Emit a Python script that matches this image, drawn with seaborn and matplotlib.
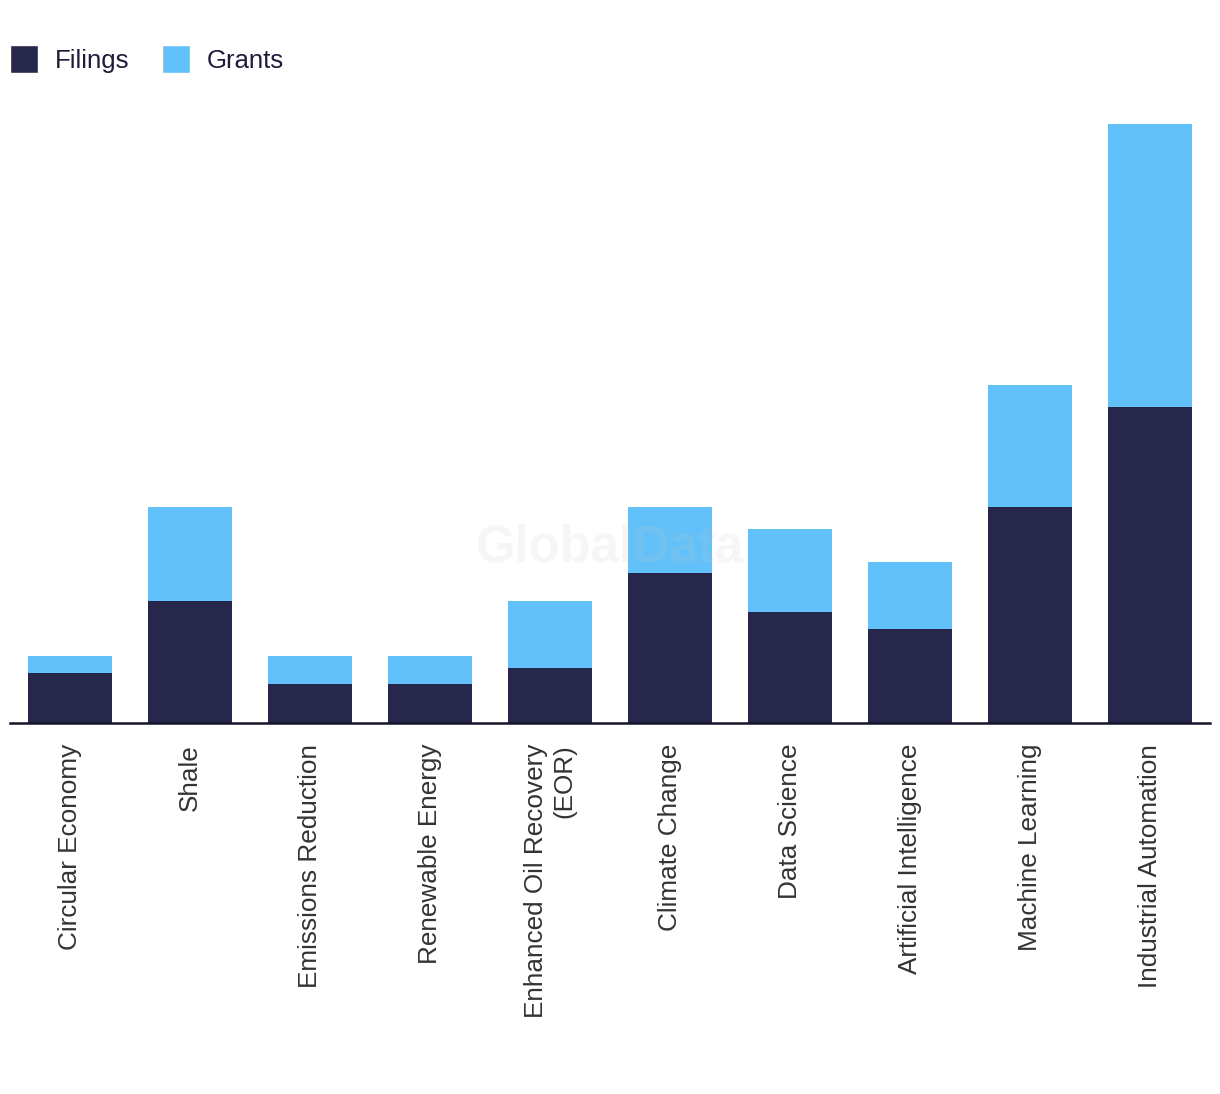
#%% Importando pacotes

import pandas as pd
import matplotlib.pyplot as plt
import seaborn as sns
from matplotlib.patches import Patch

#%% Dados

categorias = ['Circular Economy', 'Shale', 'Emissions Reduction', 'Renewable Energy',
              'Enhanced Oil Recovery\n(EOR)', 'Climate Change', 'Data Science',
              'Artificial Intelligence', 'Machine Learning', 'Industrial Automation']
filings = [9, 22, 7, 7, 10, 27, 20, 17, 39, 57]
grants = [3, 17, 5, 5, 12, 12, 15, 12, 22, 51]

cor_filings = '#26274a'
cor_grants = '#62c1f9'

df = pd.DataFrame({'cat': categorias, 'Filings': filings, 'Grants': grants})
df['Total'] = df['Filings'] + df['Grants']

#%% Grafico

sns.set_style('white')
plt.rcParams['font.family'] = ['Liberation Sans', 'DejaVu Sans']

fig = plt.figure(figsize=(12.2, 10.94), dpi=100)
ax = fig.add_axes([10 / 1220, 371 / 1094, 1200 / 1220, (723 - 124) / 1094])

sns.barplot(data=df, x='cat', y='Total', color=cor_grants, width=0.7,
            saturation=1, linewidth=0, ax=ax)
sns.barplot(data=df, x='cat', y='Filings', color=cor_filings, width=0.7,
            saturation=1, linewidth=0, ax=ax)

ax.set_ylim(0, 108)
ax.set_xlim(-0.5, len(categorias) - 0.5)
ax.set_xlabel('')
ax.set_ylabel('')
ax.set_yticks([])
for s in ['top', 'right', 'left']:
    ax.spines[s].set_visible(False)
ax.spines['bottom'].set_color('#15152a')
ax.spines['bottom'].set_linewidth(1.8)
ax.tick_params(axis='x', length=0, pad=15)
plt.setp(ax.get_xticklabels(), rotation=90, fontsize=18.8, color='#333333',
         va='top', ha='center', multialignment='right')

# marca d'agua
ax.text(0.5, 0.292, 'GlobalData', transform=ax.transAxes, ha='center', va='center',
        fontsize=36.5, fontweight='bold', color='#c8c8c8', alpha=0.15, zorder=5)

handles = [Patch(facecolor=cor_filings, label='Filings'),
           Patch(facecolor=cor_grants, label='Grants')]
fig.legend(handles=handles, loc='upper left', bbox_to_anchor=(10 / 1220, 1 - 45 / 1094),
           ncol=2, frameon=False, fontsize=18.5, handlelength=1.1, handleheight=1.3,
           handletextpad=0.65, columnspacing=1.25, labelcolor='#1c1c3a',
           borderaxespad=0, borderpad=0)

fig.savefig('out.png', dpi=100, facecolor='white')
